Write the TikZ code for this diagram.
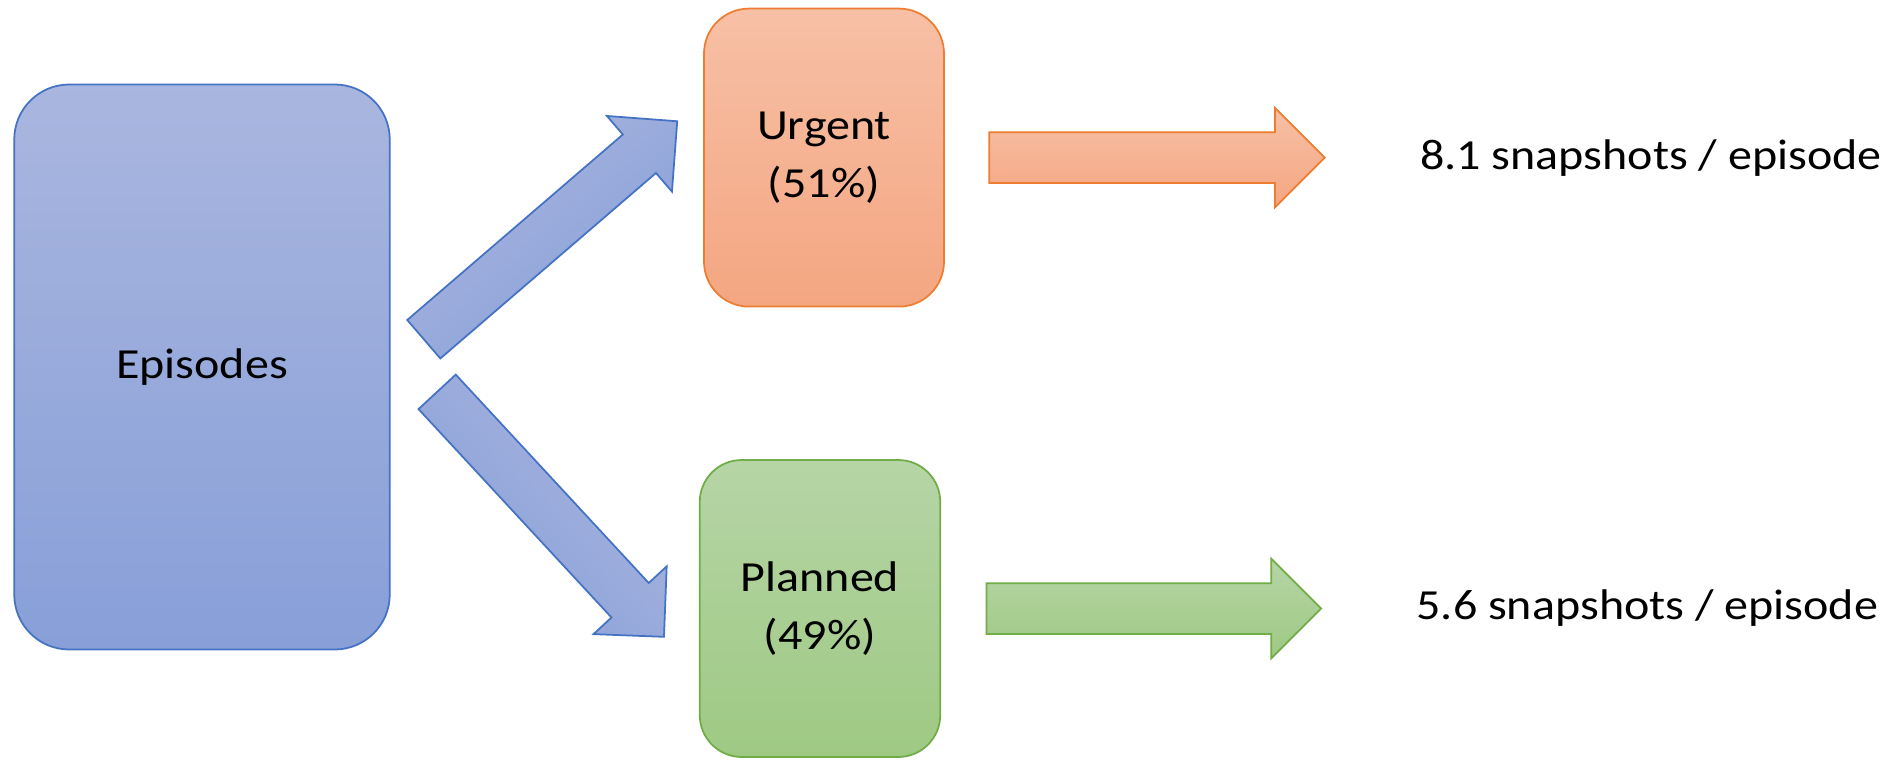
\documentclass[tikz,border=0pt]{standalone}
\usepackage{fontspec}
\setmainfont{Carlito}[FakeStretch=1.12]
\usetikzlibrary{calc, positioning, shapes.arrows}
\definecolor{blaurand}{RGB}{68,114,196}
\definecolor{blauoben}{RGB}{169,182,223}
\definecolor{blauunten}{RGB}{136,159,216}
\definecolor{orangerand}{RGB}{237,125,49}
\definecolor{orangeoben}{RGB}{247,192,166}
\definecolor{orangeunten}{RGB}{244,166,129}
\definecolor{gruenrand}{RGB}{112,173,71}
\definecolor{gruenoben}{RGB}{182,213,166}
\definecolor{gruenunten}{RGB}{158,201,131}

\begin{document}
\begin{tikzpicture}[
    schrift/.style={font=\fontsize{12.2}{16.5}\selectfont},
    kasten/.style={schrift, draw, line width=0.5pt, align=center, inner sep=0pt},
    blockpfeil/.style={single arrow, draw, line width=0.5pt, inner sep=0pt,
        inner ysep=0.245cm, single arrow head extend=0.245cm,
        minimum width=0.98cm, single arrow tip angle=90, anchor=tail},
    blau/.style={draw=blaurand, top color=blauoben, bottom color=blauunten},
    orange/.style={draw=orangerand, top color=orangeoben, bottom color=orangeunten},
    gruen/.style={draw=gruenrand, top color=gruenoben, bottom color=gruenunten}
]
    \useasboundingbox (0,0) rectangle (18.93,7.61);
    % Ausgangskasten
    \node[kasten, blau, rounded corners=0.55cm, minimum width=3.755cm,
        minimum height=5.65cm] (epi) at (2.02,3.94) {Episodes};
    % Aufteilung in zwei Gruppen
    \node[kasten, orange, rounded corners=0.45cm, minimum width=2.40cm,
        minimum height=2.98cm] (urg) at (8.24,6.034) {Urgent\\(51\%)};
    \node[kasten, gruen, rounded corners=0.42cm, minimum width=2.405cm,
        minimum height=2.97cm] (pla) at (8.20,1.525) {Planned\\(49\%)};
    % Schraege Pfeile
    \node[blockpfeil, blau, shading angle=40.7, minimum height=3.343cm, rotate=40.7]
        (pfeiloben) at ($(epi.east)+(0.325,0.272)$) {};
    \node[blockpfeil, blau, shading angle=-47.2, minimum height=3.339cm, rotate=-47.2]
        (pfeilunten) at ($(epi.east)+(0.459,-0.242)$) {};
    % Waagrechte Pfeile
    \node[blockpfeil, orange, minimum height=3.355cm]
        (pfeilurg) at ($(urg.east)+(0.435,0)$) {};
    \node[blockpfeil, gruen, minimum height=3.346cm]
        (pfeilpla) at ($(pla.east)+(0.445,0)$) {};
    % Ergebnisse
    \node[schrift, inner sep=0pt, right=0.935cm of pfeilurg.tip] (erg1) {8.1 snapshots / episode};
    \node[schrift, inner sep=0pt, right=0.935cm of pfeilpla.tip] (erg2) {5.6 snapshots / episode};
\end{tikzpicture}
\end{document}
